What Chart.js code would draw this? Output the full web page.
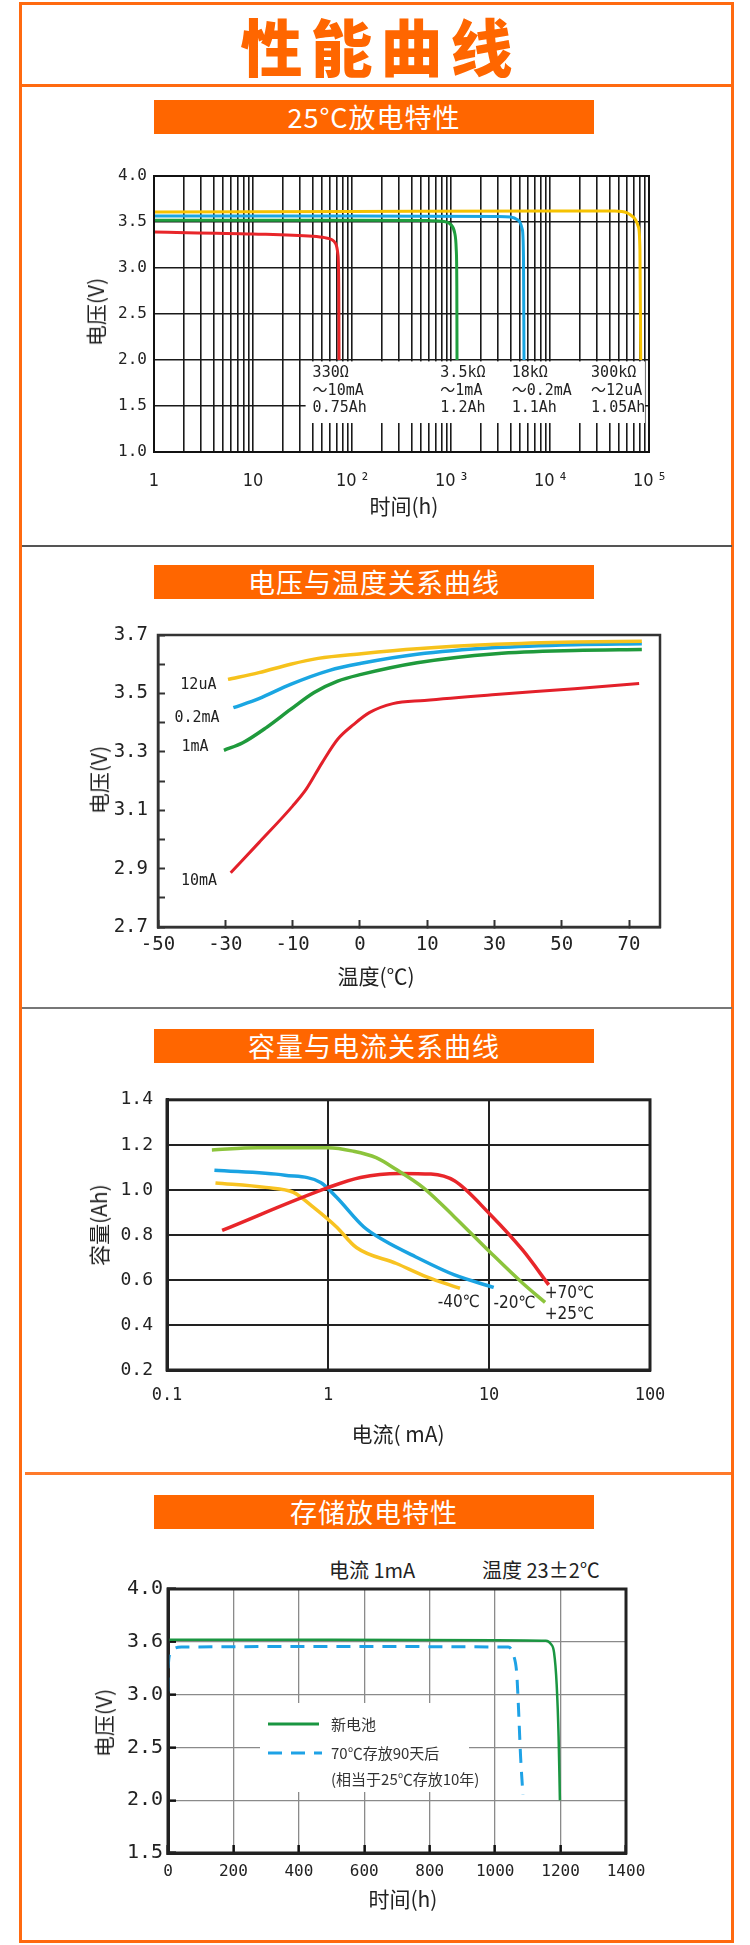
<!DOCTYPE html>
<html>
<head>
<meta charset="utf-8">
<script src="https://cdn.jsdelivr.net/npm/chart.js@4.4.1/dist/chart.umd.min.js"></script>
<style>
html, body { margin: 0; padding: 0; background: #fff; }
#page { position: relative; width: 750px; height: 1945px; overflow: hidden; font-family: "Noto Sans CJK SC", sans-serif; color: #222; }
.abs { position: absolute; }
.outer { left: 19px; top: 2px; width: 715px; height: 1941px; box-sizing: border-box; border: 3px solid #ff6a10; }
.bigtitle { left: 19px; top: 8px; width: 715px; height: 75px; line-height: 75px; text-align: center; font-size: 62px; font-weight: 900; color: #ff6600; letter-spacing: 8px; padding-left: 8px; box-sizing: border-box; }
.bar { left: 154px; width: 440px; height: 34px; line-height: 34px; background: #ff6600; color: #fff; text-align: center; font-size: 27px; letter-spacing: 1px; }
.ytitle { transform: translate(-50%, -50%) rotate(-90deg); white-space: nowrap; font-size: 21px; }
.xtitle { transform: translate(-50%, -50%); white-space: nowrap; font-size: 21px; }
canvas { position: absolute; left: 0; }
</style>
</head>
<body>
<div id="page">
  <div class="abs outer"></div>
  <div class="abs bigtitle">性能曲线</div>
  <div class="abs" style="left:19px;top:84px;width:715px;height:3px;background:#ff6a10"></div>

  <div class="abs bar" style="top:100px">25°C放电特性</div>
  <canvas id="c1" width="750" height="400" style="top:140px;width:750px;height:400px"></canvas>
  <div class="abs ytitle" style="left:95px;top:312px">电压(V)</div>
  <div class="abs xtitle" style="left:404px;top:505px">时间(h)</div>
  <div class="abs" style="left:22px;top:545px;width:710px;height:2px;background:#555"></div>

  <div class="abs bar" style="top:565px">电压与温度关系曲线</div>
  <canvas id="c2" width="750" height="400" style="top:600px;width:750px;height:400px"></canvas>
  <div class="abs ytitle" style="left:98px;top:780px">电压(V)</div>
  <div class="abs xtitle" style="left:376px;top:975px">温度(℃)</div>
  <div class="abs" style="left:22px;top:1007px;width:710px;height:2px;background:#777"></div>

  <div class="abs bar" style="top:1029px">容量与电流关系曲线</div>
  <canvas id="c3" width="750" height="390" style="top:1075px;width:750px;height:390px"></canvas>
  <div class="abs ytitle" style="left:98px;top:1225px">容量(Ah)</div>
  <div class="abs xtitle" style="left:398px;top:1433px">电流( mA)</div>
  <div class="abs" style="left:25px;top:1472px;width:706px;height:3px;background:#ff7a2a"></div>

  <div class="abs bar" style="top:1495px">存储放电特性</div>
  <div class="abs" style="left:329px;top:1557px;font-size:20px;line-height:26px;white-space:nowrap">电流 1mA</div>
  <div class="abs" style="left:482px;top:1557px;font-size:20px;line-height:26px;white-space:nowrap">温度 23±2℃</div>
  <canvas id="c4" width="750" height="345" style="top:1545px;width:750px;height:345px"></canvas>
  <div class="abs ytitle" style="left:103px;top:1723px">电压(V)</div>
  <div class="abs xtitle" style="left:403px;top:1898px">时间(h)</div>
</div>

<script>
// ---------- chart 1: 25°C discharge ----------
const hourSignificands = [1, 2, 3, 4, 5, 6, 7, 8, 9];
const hourDecades = [1, 10, 100, 1000, 10000];
const hourTickValues = [1, 10, 100, 1000, 10000, 100000];
const hourTickLabels = ['1', '10', '10 ²', '10 ³', '10 ⁴', '10 ⁵'];

const red330Hours = [1, 10, 40, 53, 62, 68, 72, 73.5, 74];
const red330Volts = [3.39, 3.37, 3.345, 3.33, 3.31, 3.27, 3.15, 2.8, 2.0];
const green3k5Hours = [1, 100, 600, 850, 1000, 1090, 1130, 1145, 1150];
const green3k5Volts = [3.52, 3.52, 3.515, 3.505, 3.47, 3.38, 3.2, 2.8, 2.0];
const blue18kHours = [1, 100, 3000, 4000, 4800, 5250, 5400, 5460];
const blue18kVolts = [3.565, 3.565, 3.56, 3.555, 3.52, 3.42, 3.1, 2.0];
const yellow300kHours = [1, 100, 10000, 45000, 60000, 70000, 78000, 81000, 82500];
const yellow300kVolts = [3.61, 3.615, 3.62, 3.62, 3.6, 3.55, 3.45, 3.2, 2.0];

const loadNotes = [
  ['330Ω', '～10mA', '0.75Ah'],
  ['3.5kΩ', '～1mA', '1.2Ah'],
  ['18kΩ', '～0.2mA', '1.1Ah'],
  ['300kΩ', '～12uA', '1.05Ah']
];
const loadNoteHours = [40, 780, 4100, 26000];
const loadNoteVolts = [1.86, 1.66, 1.48];
const noteBoxHours = [34, 91000];
const noteBoxVolts = [1.315, 1.985];

// ---------- chart 2: voltage vs temperature ----------
const tempLabels = ['-50', '-30', '-10', '0', '10', '30', '50', '70'];
const tempVoltLabels = ['2.7', '2.9', '3.1', '3.3', '3.5', '3.7'];
// x is the position on the (evenly spaced) temperature axis, 0 = -50 ... 7 = 70
const t12uAPos = [1.04, 1.50, 1.97, 2.38, 3.02, 3.85, 5.02, 6.19, 7.19];
const t12uAVolts = [3.548, 3.571, 3.600, 3.620, 3.636, 3.653, 3.668, 3.676, 3.679];
const t02mAPos = [1.12, 1.50, 1.97, 2.55, 3.02, 3.85, 5.02, 6.19, 7.19];
const t02mAVolts = [3.451, 3.482, 3.531, 3.579, 3.603, 3.634, 3.657, 3.667, 3.670];
const t1mAPos = [0.98, 1.26, 1.61, 1.97, 2.32, 2.67, 3.02, 3.85, 5.02, 6.19, 7.19];
const t1mAVolts = [3.305, 3.331, 3.383, 3.445, 3.503, 3.542, 3.565, 3.605, 3.636, 3.647, 3.650];
const t10mAPos = [1.08, 1.50, 2.00, 2.20, 2.44, 2.67, 2.91, 3.14, 3.49, 3.96, 5.02, 6.19, 7.15];
const t10mAVolts = [2.886, 2.989, 3.114, 3.171, 3.263, 3.343, 3.394, 3.434, 3.465, 3.476, 3.496, 3.516, 3.534];
const tempCurveNames = ['12uA', '0.2mA', '1mA', '10mA'];
const tempNamePos = [0.60, 0.58, 0.55, 0.61];
const tempNameVolts = [3.529, 3.417, 3.315, 2.858];

// ---------- chart 3: capacity vs current ----------
const currentTicks = [0.1, 1, 10, 100];
const currentTickLabels = ['0.1', '1', '10', '100'];
const cap25mA = [0.19, 0.366, 1.0, 1.43, 1.99, 2.66, 3.9, 6.1, 10.1, 16.2, 22.3];
const cap25Ah = [1.177, 1.187, 1.187, 1.172, 1.143, 1.09, 1.01, 0.88, 0.725, 0.585, 0.50];
const cap70mA = [0.22, 1.0, 1.59, 2.78, 4.36, 6.1, 10.1, 16.2, 23.5];
const cap70Ah = [0.82, 1.01, 1.055, 1.073, 1.07, 1.04, 0.893, 0.732, 0.578];
const capM20mA = [0.197, 0.54, 0.9, 1.13, 1.67, 2.22, 3.49, 6.1, 10.7];
const capM20Ah = [1.087, 1.065, 1.033, 0.967, 0.835, 0.776, 0.703, 0.622, 0.567];
const capM40mA = [0.2, 0.41, 0.61, 0.81, 1.13, 1.5, 2.66, 4.1, 6.6];
const capM40Ah = [1.031, 1.011, 0.989, 0.923, 0.835, 0.744, 0.673, 0.614, 0.563];
const capNames = ['-40℃', '-20℃', '+70℃', '+25℃'];
const capNameMA = [6.5, 14.4, 31.6, 31.6];
const capNameAh = [0.501, 0.494, 0.541, 0.446];

// ---------- chart 4: storage discharge ----------
const storageHourTicks = [0, 200, 400, 600, 800, 1000, 1200, 1400];
const storageHourLabels = ['0', '200', '400', '600', '800', '1000', '1200', '1400'];
const storageVoltTicks = [1.5, 2.0, 2.5, 3.0, 3.5, 4.0];
const storageVoltLabels = ['1.5', '2.0', '2.5', '3.0', '3.6', '4.0'];
const newCellHours = [0, 500, 1000, 1155, 1170, 1180, 1188, 1194, 1198];
const newCellVolts = [3.52, 3.52, 3.515, 3.51, 3.48, 3.40, 3.1, 2.6, 2.0];
const storedHours = [0, 1, 6, 16, 42, 500, 1040, 1056, 1066, 1071, 1078, 1085];
const storedVolts = [3.03, 3.27, 3.38, 3.43, 3.45, 3.455, 3.45, 3.375, 3.2, 2.9, 2.4, 2.05];
const storageLegend = ['新电池', '70℃存放90天后', '(相当于25℃存放10年)'];

// ---------- helpers ----------
const MONO = '"DejaVu Sans Mono", "Noto Sans CJK SC", monospace';
const NARROW = '"Liberation Sans Narrow", "DejaVu Sans Condensed", "Liberation Sans", sans-serif';
const CJK = '"Noto Sans CJK SC", sans-serif';
const INK = '#222';

const pts = (xs, ys) => xs.map((x, i) => ({ x: x, y: ys[i] }));
const line = (xs, ys, color, width, extra) => Object.assign({
  data: pts(xs, ys), borderColor: color, borderWidth: width, pointRadius: 0,
  fill: false, cubicInterpolationMode: 'monotone'
}, extra || {});

function frame(color, width) {
  return {
    id: 'frame',
    afterDraw(chart) {
      const a = chart.chartArea, c = chart.ctx;
      c.save();
      c.strokeStyle = color;
      c.lineWidth = width;
      c.strokeRect(a.left, a.top, a.right - a.left, a.bottom - a.top);
      c.restore();
    }
  };
}

function baseOptions(areaTop, areaLeft, areaRight, areaBottom, canvasH) {
  return {
    responsive: false,
    animation: false,
    layout: { padding: { left: 0, top: areaTop, right: 750 - areaRight, bottom: 0 } },
    plugins: { legend: { display: false }, tooltip: { enabled: false } },
    _fitX: s => { s.height = canvasH - areaBottom; },
    _fitY: s => { s.width = areaLeft; }
  };
}

// ---------- chart 1 ----------
(function () {
  const o = baseOptions(36, 154, 649, 312, 400);
  const gridHours = [];
  hourDecades.forEach(d => hourSignificands.forEach(s => gridHours.push(d * s)));
  gridHours.push(100000);

  new Chart(document.getElementById('c1'), {
    type: 'line',
    data: {
      datasets: [
        line(red330Hours, red330Volts, '#e8262a', 3),
        line(green3k5Hours, green3k5Volts, '#1f9e3e', 3),
        line(blue18kHours, blue18kVolts, '#1aa6e2', 3),
        line(yellow300kHours, yellow300kVolts, '#f6c200', 3)
      ]
    },
    options: {
      responsive: o.responsive, animation: o.animation, layout: o.layout, plugins: o.plugins,
      scales: {
        x: {
          type: 'logarithmic', min: 1, max: 100000,
          afterBuildTicks: s => { s.ticks = gridHours.map(v => ({ value: v })); },
          afterFit: o._fitX,
          grid: { color: '#1a1a1a', lineWidth: 1.6, drawTicks: false },
          border: { color: '#111', width: 2 },
          ticks: {
            autoSkip: false, maxRotation: 0, minRotation: 0, padding: 19, color: INK,
            font: { family: NARROW, size: 18 },
            callback: v => { const i = hourTickValues.indexOf(v); return i >= 0 ? hourTickLabels[i] : ''; }
          }
        },
        y: {
          type: 'linear', min: 1, max: 4,
          afterFit: o._fitY,
          grid: { color: '#1a1a1a', lineWidth: 1.6, drawTicks: false },
          border: { color: '#111', width: 2 },
          ticks: { stepSize: 0.5, padding: 7, color: INK, font: { family: MONO, size: 16 }, callback: v => Number(v).toFixed(1) }
        }
      }
    },
    plugins: [frame('#111', 2), {
      id: 'notes1',
      beforeDatasetsDraw(chart) {
        const xs = chart.scales.x, ys = chart.scales.y, c = chart.ctx;
        const x0 = xs.getPixelForValue(noteBoxHours[0]), x1 = xs.getPixelForValue(noteBoxHours[1]);
        const y0 = ys.getPixelForValue(noteBoxVolts[1]), y1 = ys.getPixelForValue(noteBoxVolts[0]);
        c.save();
        c.fillStyle = '#fff';
        c.fillRect(x0, y0, x1 - x0, y1 - y0);
        c.fillStyle = INK;
        c.font = '15px ' + MONO;
        c.textAlign = 'left';
        c.textBaseline = 'middle';
        loadNotes.forEach((lines, i) => {
          const x = xs.getPixelForValue(loadNoteHours[i]);
          lines.forEach((t, j) => c.fillText(t, x, ys.getPixelForValue(loadNoteVolts[j])));
        });
        c.restore();
      }
    }]
  });
})();

// ---------- chart 2 ----------
(function () {
  const o = baseOptions(35, 158, 660, 327, 400);
  new Chart(document.getElementById('c2'), {
    type: 'line',
    data: {
      datasets: [
        line(t12uAPos, t12uAVolts, '#f6c21c', 3.5),
        line(t02mAPos, t02mAVolts, '#1aa6e2', 3.5),
        line(t1mAPos, t1mAVolts, '#1f9a3c', 3.5),
        line(t10mAPos, t10mAVolts, '#e3202a', 3)
      ]
    },
    options: {
      responsive: o.responsive, animation: o.animation, layout: o.layout, plugins: o.plugins,
      scales: {
        x: {
          type: 'linear', min: 0, max: 7.46,
          afterBuildTicks: s => { s.ticks = tempLabels.map((t, i) => ({ value: i })); },
          afterFit: o._fitX,
          grid: { drawOnChartArea: false, drawTicks: true, tickLength: -7, tickColor: '#333', tickWidth: 2 },
          border: { color: '#333', width: 2.5 },
          ticks: {
            autoSkip: false, maxRotation: 0, padding: 14, color: INK, font: { family: MONO, size: 19 },
            callback: v => tempLabels[Math.round(v)]
          }
        },
        y: {
          type: 'linear', min: 2.7, max: 3.7,
          afterFit: o._fitY,
          grid: { drawOnChartArea: false, drawTicks: true, tickLength: -7, tickColor: '#333', tickWidth: 2 },
          border: { color: '#333', width: 2.5 },
          ticks: {
            stepSize: 0.1, autoSkip: false, padding: 17, color: INK, font: { family: MONO, size: 19 },
            callback: v => { const s = Number(v).toFixed(1); return tempVoltLabels.includes(s) ? s : ''; }
          }
        }
      }
    },
    plugins: [frame('#333', 2.5), {
      id: 'names2',
      afterDatasetsDraw(chart) {
        const xs = chart.scales.x, ys = chart.scales.y, c = chart.ctx;
        c.save();
        c.fillStyle = INK;
        c.font = '15px ' + MONO;
        c.textAlign = 'center';
        c.textBaseline = 'middle';
        tempCurveNames.forEach((t, i) => c.fillText(t, xs.getPixelForValue(tempNamePos[i]), ys.getPixelForValue(tempNameVolts[i])));
        c.restore();
      }
    }]
  });
})();

// ---------- chart 3 ----------
(function () {
  const o = baseOptions(23, 167, 650, 295, 390);
  new Chart(document.getElementById('c3'), {
    type: 'line',
    data: {
      datasets: [
        line(cap25mA, cap25Ah, '#8cc43c', 3.5),
        line(cap70mA, cap70Ah, '#e8262a', 3.5),
        line(capM20mA, capM20Ah, '#1aa3e2', 3.5),
        line(capM40mA, capM40Ah, '#f8c322', 3.5)
      ]
    },
    options: {
      responsive: o.responsive, animation: o.animation, layout: o.layout, plugins: o.plugins,
      scales: {
        x: {
          type: 'logarithmic', min: 0.1, max: 100,
          afterBuildTicks: s => { s.ticks = currentTicks.map(v => ({ value: v })); },
          afterFit: o._fitX,
          grid: { color: '#222', lineWidth: 2, drawTicks: false },
          border: { color: '#222', width: 3 },
          ticks: {
            autoSkip: false, maxRotation: 0, padding: 15, color: INK, font: { family: MONO, size: 17 },
            callback: v => { const i = currentTicks.indexOf(v); return i >= 0 ? currentTickLabels[i] : ''; }
          }
        },
        y: {
          type: 'linear', min: 0.2, max: 1.4,
          afterFit: o._fitY,
          grid: { color: '#222', lineWidth: 2, drawTicks: false },
          border: { color: '#222', width: 3 },
          ticks: { stepSize: 0.2, padding: 14, color: INK, font: { family: MONO, size: 18 }, callback: v => Number(v).toFixed(1) }
        }
      }
    },
    plugins: [frame('#222', 3), {
      id: 'names3',
      afterDatasetsDraw(chart) {
        const xs = chart.scales.x, ys = chart.scales.y, c = chart.ctx;
        c.save();
        c.fillStyle = INK;
        c.font = '17px ' + NARROW.replace('sans-serif', CJK);
        c.textAlign = 'center';
        c.textBaseline = 'middle';
        capNames.forEach((t, i) => c.fillText(t, xs.getPixelForValue(capNameMA[i]), ys.getPixelForValue(capNameAh[i])));
        c.restore();
      }
    }]
  });
})();

// ---------- chart 4 ----------
(function () {
  const o = baseOptions(44, 168, 626, 308, 345);
  new Chart(document.getElementById('c4'), {
    type: 'line',
    data: {
      datasets: [
        line(newCellHours, newCellVolts, '#1a9641', 2.5),
        line(storedHours, storedVolts, '#1ea2e6', 3, { borderDash: [14, 9] })
      ]
    },
    options: {
      responsive: o.responsive, animation: o.animation, layout: o.layout, plugins: o.plugins,
      scales: {
        x: {
          type: 'linear', min: 0, max: 1400,
          afterBuildTicks: s => { s.ticks = storageHourTicks.map(v => ({ value: v })); },
          afterFit: o._fitX,
          grid: { color: '#8a8a8a', lineWidth: 1.3, drawTicks: true, tickLength: -8, tickColor: '#111', tickWidth: 2.5 },
          border: { color: '#222', width: 3 },
          ticks: {
            autoSkip: false, maxRotation: 0, padding: 17, color: INK, font: { family: MONO, size: 16 },
            callback: v => { const i = storageHourTicks.indexOf(v); return i >= 0 ? storageHourLabels[i] : ''; }
          }
        },
        y: {
          type: 'linear', min: 1.5, max: 4.0,
          afterBuildTicks: s => { s.ticks = storageVoltTicks.map(v => ({ value: v })); },
          afterFit: o._fitY,
          grid: { color: '#8a8a8a', lineWidth: 1.3, drawTicks: true, tickLength: -8, tickColor: '#111', tickWidth: 2.5 },
          border: { color: '#222', width: 3 },
          ticks: {
            autoSkip: false, padding: 13, color: INK, font: { family: MONO, size: 20 },
            callback: v => { const i = storageVoltTicks.findIndex(t => Math.abs(t - v) < 1e-6); return i >= 0 ? storageVoltLabels[i] : ''; }
          }
        }
      }
    },
    plugins: [frame('#222', 3), {
      id: 'legend4',
      beforeDatasetsDraw(chart) {
        const c = chart.ctx;
        c.save();
        c.fillStyle = '#fff';
        c.fillRect(260, 158, 209, 89);
        c.lineWidth = 3;
        c.strokeStyle = '#1a9641';
        c.beginPath(); c.moveTo(268, 179); c.lineTo(319, 179); c.stroke();
        c.strokeStyle = '#1ea2e6';
        c.setLineDash([14, 9]);
        c.beginPath(); c.moveTo(268, 208); c.lineTo(322, 208); c.stroke();
        c.setLineDash([]);
        c.fillStyle = '#333';
        c.font = '15px ' + CJK;
        c.textAlign = 'left';
        c.textBaseline = 'middle';
        c.fillText(storageLegend[0], 331, 179);
        c.fillText(storageLegend[1], 331, 208);
        c.fillText(storageLegend[2], 331, 234);
        c.restore();
      }
    }]
  });
})();
</script>
</body>
</html>
